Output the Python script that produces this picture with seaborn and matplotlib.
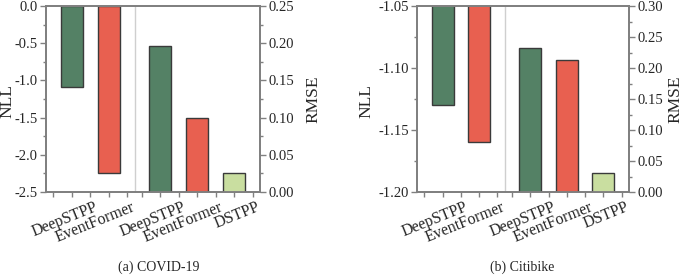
import pandas as pd
import seaborn as sns
import matplotlib.pyplot as plt
import matplotlib.transforms as mtransforms

# data
nll_models = ['DeepSTPP', 'EventFormer']
rmse_models = ['DeepSTPP', 'EventFormer', 'DSTPP']
covid_nll = [-1.09, -2.25]
covid_rmse = [0.196, 0.100, 0.025]
citi_nll = [-1.13, -1.16]
citi_rmse = [0.233, 0.213, 0.030]

nll_pos = [0, 1]
rmse_pos = [2.4, 3.4, 4.4]
colors = {'DeepSTPP': '#548165', 'EventFormer': '#e86050', 'DSTPP': '#c9dea0'}

sns.set_style('ticks')
plt.rcParams['font.family'] = ['Liberation Serif', 'DejaVu Serif']

fig = plt.figure(figsize=(6.85, 2.75), dpi=100)
W, H = 685, 275
spine_c = '#808080'


def panel(rect, nll, rmse, nll_lim, nll_ticks, nll_minor, nll_fmt,
          rmse_lim, rmse_ticks, rmse_minor, caption, cap_x, lab_x):
    ax = fig.add_axes(rect)
    ax2 = ax.twinx()
    df_n = pd.DataFrame({'model': nll_models, 'pos': nll_pos, 'val': nll})
    df_r = pd.DataFrame({'model': rmse_models, 'pos': rmse_pos, 'val': rmse})
    kw = dict(x='pos', y='val', hue='model', palette=colors, native_scale=True, dodge=False,
              width=0.6, saturation=1, edgecolor='#3a3a3a', linewidth=1.0, legend=False)
    sns.barplot(data=df_n, ax=ax, **kw)
    sns.barplot(data=df_r, ax=ax2, **kw)
    ax.set_xlim(-0.7, 5.1)
    ax.set_ylim(*nll_lim)
    ax2.set_ylim(*rmse_lim)
    ax.axvline(1.7, color='#cfcfcf', linewidth=1.0, zorder=0)

    ax.set_yticks(nll_ticks)
    ax.set_yticks(nll_minor, minor=True)
    ax.set_yticklabels([nll_fmt.format(t) for t in nll_ticks])
    ax2.set_yticks(rmse_ticks)
    ax2.set_yticks(rmse_minor, minor=True)
    ax2.set_yticklabels([f'{t:.2f}' for t in rmse_ticks])

    ax.set_xticks(nll_pos + rmse_pos)
    ax.set_xticks([-0.5, 0.5, 1.5, 1.9, 2.9, 3.9, 4.9], minor=True)
    ax.set_xticklabels([])
    # rotated category labels, shifted right of their ticks
    trans = ax.get_xaxis_transform() + mtransforms.ScaledTranslation(0.22, -0.07, fig.dpi_scale_trans)
    for p, name in zip(nll_pos + rmse_pos, nll_models + rmse_models):
        ax.text(p, 0, name, transform=trans, rotation=22, ha='right', va='top',
                rotation_mode='anchor', fontsize=11.5)

    ax.set_xlabel('')
    ax.set_ylabel('NLL', fontsize=12.5)
    ax2.set_ylabel('RMSE', fontsize=12.5)
    ax.yaxis.set_label_coords(lab_x[0], 0.49)
    ax2.yaxis.set_label_coords(lab_x[1], 0.5)
    for a in (ax, ax2):
        for s in a.spines.values():
            s.set_color(spine_c)
            s.set_linewidth(1.3)
        a.tick_params(which='major', length=4, width=1.0, color=spine_c, labelsize=10.5, pad=2)
        a.tick_params(which='minor', length=2.5, width=1.0, color=spine_c)
    ax.tick_params(axis='x', which='both', length=3.5)
    fig.text(cap_x / W, 1 - 267 / H, caption, ha='center', va='center', fontsize=10)


bottom = 1 - 192 / H
height = 186 / H
panel([46 / W, bottom, 214 / W, height], covid_nll, covid_rmse,
      (-2.5, 0.0), [-2.5, -2.0, -1.5, -1.0, -0.5, 0.0], [-2.25, -1.75, -1.25, -0.75, -0.25], '{:.1f}',
      (0.0, 0.25), [0.0, 0.05, 0.10, 0.15, 0.20, 0.25], [0.025, 0.075, 0.125, 0.175, 0.225],
      '(a) COVID-19', 159, ((15 - 46) / 214, (305 - 46) / 214))
panel([417 / W, bottom, 212 / W, height], citi_nll, citi_rmse,
      (-1.20, -1.05), [-1.20, -1.15, -1.10, -1.05], [-1.175, -1.125, -1.075], '{:.2f}',
      (0.0, 0.30), [0.0, 0.05, 0.10, 0.15, 0.20, 0.25, 0.30], [0.025, 0.075, 0.125, 0.175, 0.225, 0.275],
      '(b) Citibike', 522, ((374 - 417) / 212, (667 - 417) / 212))

fig.savefig('out.png', dpi=100)
plt.close()
